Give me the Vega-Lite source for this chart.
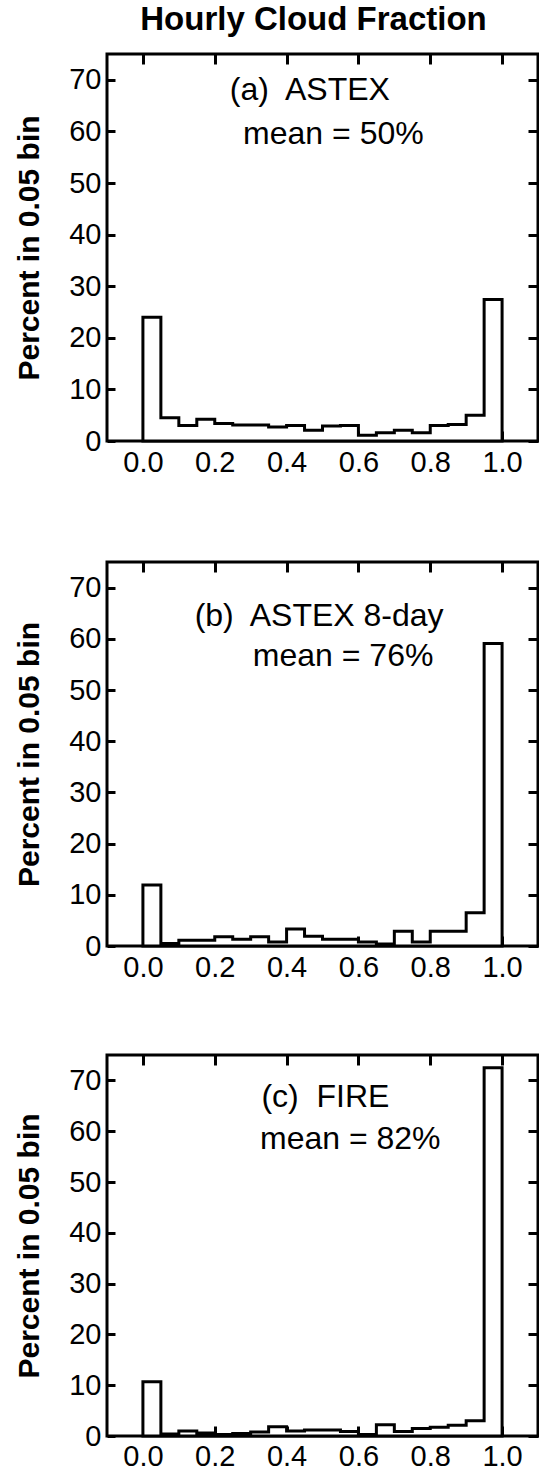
{
  "$schema": "https://vega.github.io/schema/vega-lite/v6.json",
  "padding": {"left": 13, "top": 2, "right": 0, "bottom": 0},
  "background": "white",
  "spacing": 68,
  "config": {
    "font": "Liberation Sans",
    "view": {"stroke": "black", "strokeWidth": 3},
    "axis": {
      "domain": false, "grid": false, "tickColor": "black", "tickWidth": 3,
      "labelColor": "black", "labelFont": "Liberation Sans", "labelFontSize": 29,
      "titleColor": "black", "titleFont": "Liberation Sans", "labelFlush": false
    },
    "text": {"font": "Liberation Sans", "fontSize": 32, "color": "black"}
  },
  "datasets": {
    "hist": [
      {"panel": "a", "lo": 0.0, "hi": 0.05, "pct": 24.0},
      {"panel": "a", "lo": 0.05, "hi": 0.1, "pct": 4.5},
      {"panel": "a", "lo": 0.1, "hi": 0.15, "pct": 3.0},
      {"panel": "a", "lo": 0.15, "hi": 0.2, "pct": 4.2},
      {"panel": "a", "lo": 0.2, "hi": 0.25, "pct": 3.4},
      {"panel": "a", "lo": 0.25, "hi": 0.3, "pct": 3.1},
      {"panel": "a", "lo": 0.3, "hi": 0.35, "pct": 3.1},
      {"panel": "a", "lo": 0.35, "hi": 0.4, "pct": 2.7},
      {"panel": "a", "lo": 0.4, "hi": 0.45, "pct": 3.0},
      {"panel": "a", "lo": 0.45, "hi": 0.5, "pct": 2.1},
      {"panel": "a", "lo": 0.5, "hi": 0.55, "pct": 2.9},
      {"panel": "a", "lo": 0.55, "hi": 0.6, "pct": 3.0},
      {"panel": "a", "lo": 0.6, "hi": 0.65, "pct": 1.1},
      {"panel": "a", "lo": 0.65, "hi": 0.7, "pct": 1.6},
      {"panel": "a", "lo": 0.7, "hi": 0.75, "pct": 2.1},
      {"panel": "a", "lo": 0.75, "hi": 0.8, "pct": 1.6},
      {"panel": "a", "lo": 0.8, "hi": 0.85, "pct": 3.0},
      {"panel": "a", "lo": 0.85, "hi": 0.9, "pct": 3.2},
      {"panel": "a", "lo": 0.9, "hi": 0.95, "pct": 5.0},
      {"panel": "a", "lo": 0.95, "hi": 1.0, "pct": 27.4},
      {"panel": "b", "lo": 0.0, "hi": 0.05, "pct": 11.9},
      {"panel": "b", "lo": 0.05, "hi": 0.1, "pct": 0.5},
      {"panel": "b", "lo": 0.1, "hi": 0.15, "pct": 1.1},
      {"panel": "b", "lo": 0.15, "hi": 0.2, "pct": 1.1},
      {"panel": "b", "lo": 0.2, "hi": 0.25, "pct": 1.8},
      {"panel": "b", "lo": 0.25, "hi": 0.3, "pct": 1.3},
      {"panel": "b", "lo": 0.3, "hi": 0.35, "pct": 1.8},
      {"panel": "b", "lo": 0.35, "hi": 0.4, "pct": 0.8},
      {"panel": "b", "lo": 0.4, "hi": 0.45, "pct": 3.3},
      {"panel": "b", "lo": 0.45, "hi": 0.5, "pct": 1.9},
      {"panel": "b", "lo": 0.5, "hi": 0.55, "pct": 1.3},
      {"panel": "b", "lo": 0.55, "hi": 0.6, "pct": 1.3},
      {"panel": "b", "lo": 0.6, "hi": 0.65, "pct": 0.8},
      {"panel": "b", "lo": 0.65, "hi": 0.7, "pct": 0.4},
      {"panel": "b", "lo": 0.7, "hi": 0.75, "pct": 2.9},
      {"panel": "b", "lo": 0.75, "hi": 0.8, "pct": 0.8},
      {"panel": "b", "lo": 0.8, "hi": 0.85, "pct": 2.9},
      {"panel": "b", "lo": 0.85, "hi": 0.9, "pct": 2.9},
      {"panel": "b", "lo": 0.9, "hi": 0.95, "pct": 6.5},
      {"panel": "b", "lo": 0.95, "hi": 1.0, "pct": 59.1},
      {"panel": "c", "lo": 0.0, "hi": 0.05, "pct": 10.7},
      {"panel": "c", "lo": 0.05, "hi": 0.1, "pct": 0.4},
      {"panel": "c", "lo": 0.1, "hi": 0.15, "pct": 1.0},
      {"panel": "c", "lo": 0.15, "hi": 0.2, "pct": 0.6},
      {"panel": "c", "lo": 0.2, "hi": 0.25, "pct": 0.3},
      {"panel": "c", "lo": 0.25, "hi": 0.3, "pct": 0.5},
      {"panel": "c", "lo": 0.3, "hi": 0.35, "pct": 0.8},
      {"panel": "c", "lo": 0.35, "hi": 0.4, "pct": 1.8},
      {"panel": "c", "lo": 0.4, "hi": 0.45, "pct": 1.0},
      {"panel": "c", "lo": 0.45, "hi": 0.5, "pct": 1.2},
      {"panel": "c", "lo": 0.5, "hi": 0.55, "pct": 1.2},
      {"panel": "c", "lo": 0.55, "hi": 0.6, "pct": 0.9},
      {"panel": "c", "lo": 0.6, "hi": 0.65, "pct": 0.3},
      {"panel": "c", "lo": 0.65, "hi": 0.7, "pct": 2.2},
      {"panel": "c", "lo": 0.7, "hi": 0.75, "pct": 0.9},
      {"panel": "c", "lo": 0.75, "hi": 0.8, "pct": 1.5},
      {"panel": "c", "lo": 0.8, "hi": 0.85, "pct": 1.7},
      {"panel": "c", "lo": 0.85, "hi": 0.9, "pct": 2.1},
      {"panel": "c", "lo": 0.9, "hi": 0.95, "pct": 3.0},
      {"panel": "c", "lo": 0.95, "hi": 1.0, "pct": 72.5}
    ]
  },
  "vconcat": [
    {
      "width": 431, "height": 387,
      "title": {"text": "Hourly Cloud Fraction", "fontSize": 33, "fontWeight": "bold", "font": "Liberation Sans", "color": "black", "anchor": "middle", "frame": "group", "offset": 16, "dx": -9},
      "data": {"name": "hist"},
      "transform": [{"filter": "datum.panel === 'a'"}, {"fold": ["lo", "hi"], "as": ["edge", "x"]}],
      "layer": [
        {
          "mark": {"type": "area", "fill": "white", "stroke": "black", "strokeWidth": 3, "interpolate": "linear"},
          "encoding": {
            "x": {"field": "x", "type": "quantitative", "scale": {"domain": [-0.1, 1.1], "nice": false, "zero": false},
                  "axis": {"orient": "bottom", "values": [0, 0.2, 0.4, 0.6, 0.8, 1], "format": ".1f", "tickSize": -10, "labelPadding": 17, "title": "x", "titleOpacity": 0, "titleFontSize": 8, "titlePadding": 4}},
            "y": {"field": "pct", "type": "quantitative", "stack": null, "scale": {"domain": [0, 75], "nice": false},
                  "axis": {"orient": "left", "values": [0, 10, 20, 30, 40, 50, 60, 70], "tickSize": -8, "labelPadding": 14, "title": "Percent in 0.05 bin", "titleFontSize": 30, "titleFontWeight": "bold", "titlePadding": 24}},
            "order": [{"field": "x", "type": "quantitative"}, {"field": "edge", "type": "nominal"}]
          }
        },
        {
          "mark": {"type": "point", "opacity": 0},
          "encoding": {
            "x": {"field": "x", "type": "quantitative", "axis": {"orient": "top", "values": [0, 0.2, 0.4, 0.6, 0.8, 1], "labels": false, "tickSize": -10, "title": null}},
            "y": {"field": "pct", "type": "quantitative", "axis": {"orient": "right", "values": [0, 10, 20, 30, 40, 50, 60, 70], "labels": false, "tickSize": -10, "title": null}}
          }
        },
        {
          "data": {"values": [{"t": "(a)\u00a0 ASTEX"}]},
          "mark": {"type": "text", "align": "left", "baseline": "middle"},
          "encoding": {"text": {"field": "t"}, "x": {"datum": 0.242, "axis": null}, "y": {"datum": 68.1, "axis": null}}
        },
        {
          "data": {"values": [{"t": "mean = 50%"}]},
          "mark": {"type": "text", "align": "left", "baseline": "middle"},
          "encoding": {"text": {"field": "t"}, "x": {"datum": 0.279, "axis": null}, "y": {"datum": 59.4, "axis": null}}
        }
      ],
      "resolve": {"axis": {"x": "independent", "y": "independent"}}
    },
    {
      "width": 431, "height": 384,
      "data": {"name": "hist"},
      "transform": [{"filter": "datum.panel === 'b'"}, {"fold": ["lo", "hi"], "as": ["edge", "x"]}],
      "layer": [
        {
          "mark": {"type": "area", "fill": "white", "stroke": "black", "strokeWidth": 3, "interpolate": "linear"},
          "encoding": {
            "x": {"field": "x", "type": "quantitative", "scale": {"domain": [-0.1, 1.1], "nice": false, "zero": false},
                  "axis": {"orient": "bottom", "values": [0, 0.2, 0.4, 0.6, 0.8, 1], "format": ".1f", "tickSize": -10, "labelPadding": 17, "title": null}},
            "y": {"field": "pct", "type": "quantitative", "stack": null, "scale": {"domain": [0, 75], "nice": false},
                  "axis": {"orient": "left", "values": [0, 10, 20, 30, 40, 50, 60, 70], "tickSize": -8, "labelPadding": 14, "title": "Percent in 0.05 bin", "titleFontSize": 30, "titleFontWeight": "bold", "titlePadding": 24}},
            "order": [{"field": "x", "type": "quantitative"}, {"field": "edge", "type": "nominal"}]
          }
        },
        {
          "mark": {"type": "point", "opacity": 0},
          "encoding": {
            "x": {"field": "x", "type": "quantitative", "axis": {"orient": "top", "values": [0, 0.2, 0.4, 0.6, 0.8, 1], "labels": false, "tickSize": -10, "title": null}},
            "y": {"field": "pct", "type": "quantitative", "axis": {"orient": "right", "values": [0, 10, 20, 30, 40, 50, 60, 70], "labels": false, "tickSize": -10, "title": null}}
          }
        },
        {
          "data": {"values": [{"t": "(b)\u00a0 ASTEX 8-day"}]},
          "mark": {"type": "text", "align": "left", "baseline": "middle"},
          "encoding": {"text": {"field": "t"}, "x": {"datum": 0.144, "axis": null}, "y": {"datum": 64.4, "axis": null}}
        },
        {
          "data": {"values": [{"t": "mean = 76%"}]},
          "mark": {"type": "text", "align": "left", "baseline": "middle"},
          "encoding": {"text": {"field": "t"}, "x": {"datum": 0.306, "axis": null}, "y": {"datum": 56.6, "axis": null}}
        }
      ],
      "resolve": {"axis": {"x": "independent", "y": "independent"}}
    },
    {
      "width": 431, "height": 381,
      "data": {"name": "hist"},
      "transform": [{"filter": "datum.panel === 'c'"}, {"fold": ["lo", "hi"], "as": ["edge", "x"]}],
      "layer": [
        {
          "mark": {"type": "area", "fill": "white", "stroke": "black", "strokeWidth": 3, "interpolate": "linear"},
          "encoding": {
            "x": {"field": "x", "type": "quantitative", "scale": {"domain": [-0.1, 1.1], "nice": false, "zero": false},
                  "axis": {"orient": "bottom", "values": [0, 0.2, 0.4, 0.6, 0.8, 1], "format": ".1f", "tickSize": -10, "labelPadding": 16, "title": null}},
            "y": {"field": "pct", "type": "quantitative", "stack": null, "scale": {"domain": [0, 75], "nice": false},
                  "axis": {"orient": "left", "values": [0, 10, 20, 30, 40, 50, 60, 70], "tickSize": -8, "labelPadding": 14, "title": "Percent in 0.05 bin", "titleFontSize": 30, "titleFontWeight": "bold", "titlePadding": 24}},
            "order": [{"field": "x", "type": "quantitative"}, {"field": "edge", "type": "nominal"}]
          }
        },
        {
          "mark": {"type": "point", "opacity": 0},
          "encoding": {
            "x": {"field": "x", "type": "quantitative", "axis": {"orient": "top", "values": [0, 0.2, 0.4, 0.6, 0.8, 1], "labels": false, "tickSize": -10, "title": null}},
            "y": {"field": "pct", "type": "quantitative", "axis": {"orient": "right", "values": [0, 10, 20, 30, 40, 50, 60, 70], "labels": false, "tickSize": -10, "title": null}}
          }
        },
        {
          "data": {"values": [{"t": "(c)\u00a0 FIRE"}]},
          "mark": {"type": "text", "align": "left", "baseline": "middle"},
          "encoding": {"text": {"field": "t"}, "x": {"datum": 0.330, "axis": null}, "y": {"datum": 66.7, "axis": null}}
        },
        {
          "data": {"values": [{"t": "mean = 82%"}]},
          "mark": {"type": "text", "align": "left", "baseline": "middle"},
          "encoding": {"text": {"field": "t"}, "x": {"datum": 0.326, "axis": null}, "y": {"datum": 58.5, "axis": null}}
        }
      ],
      "resolve": {"axis": {"x": "independent", "y": "independent"}}
    }
  ]
}
